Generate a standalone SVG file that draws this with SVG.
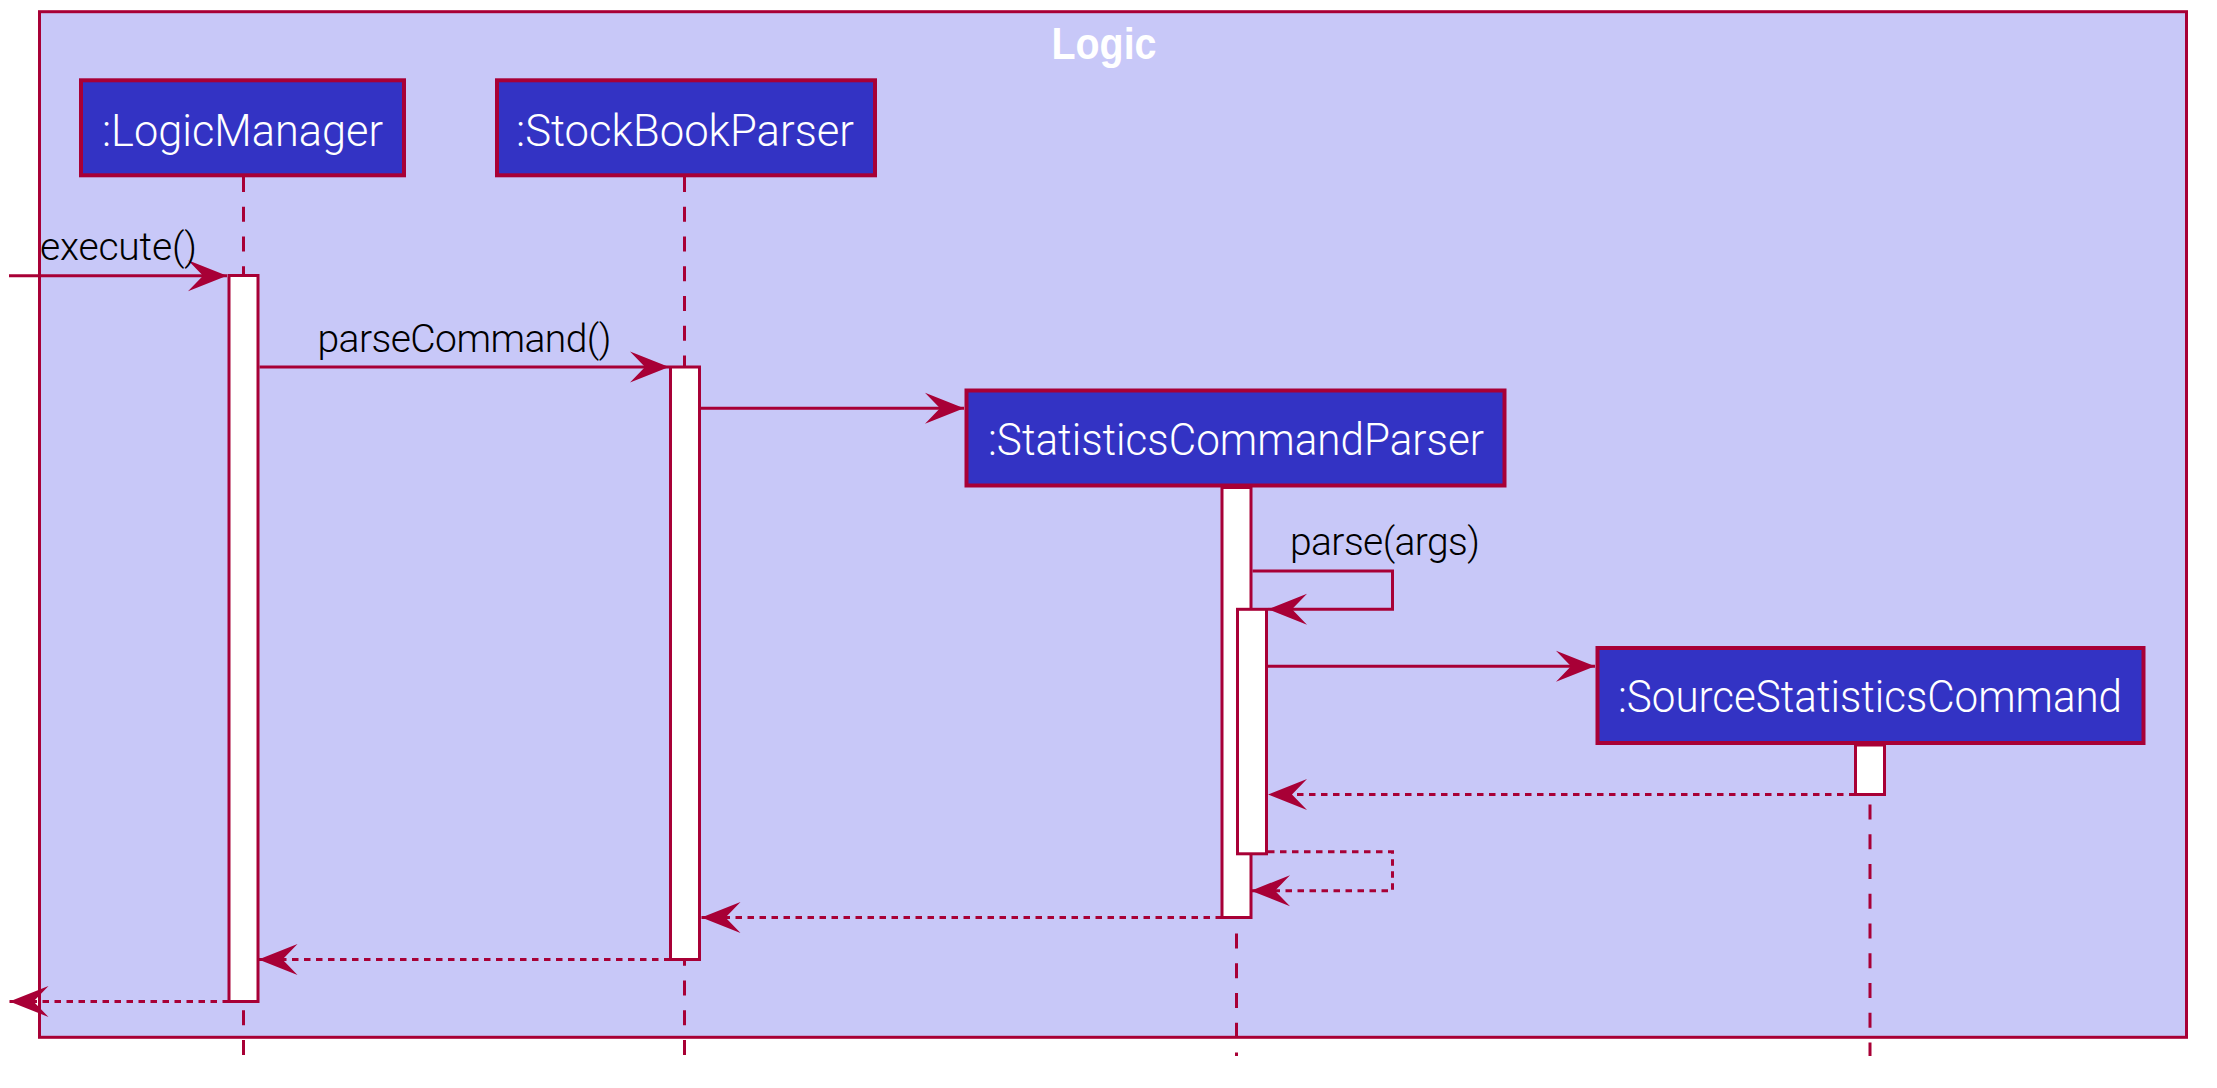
<svg xmlns="http://www.w3.org/2000/svg" width="2217" height="1088" viewBox="0 0 2217 1088">
<style>
.frame{fill:#C8C8F8;stroke:#A80036;stroke-width:3}
.box{fill:#3333C4;stroke:#A80036;stroke-width:4}
.name{font-family:Roboto,"Liberation Sans",sans-serif;font-size:45px;font-weight:300;fill:#FFFFFF;text-anchor:middle}
.msg{font-family:Roboto,"Liberation Sans",sans-serif;font-size:39px;font-weight:300;fill:#000000}
.title{font-family:"Liberation Sans",Arial,sans-serif;font-size:44px;font-weight:bold;fill:#FFFFFF;text-anchor:middle}
.life{stroke:#A80036;stroke-width:3;stroke-dasharray:15,14.76;fill:none}
.act{fill:#FFFFFF;stroke:#A80036;stroke-width:3}
.call{stroke:#A80036;stroke-width:3;fill:none;marker-end:url(#arrow)}
.ret{stroke:#A80036;stroke-width:3;fill:none;stroke-dasharray:6.5,5.5;marker-end:url(#arrow)}
</style>
<defs>
<marker id="arrow" markerUnits="userSpaceOnUse" viewBox="-40 -17 42 34" markerWidth="42" markerHeight="34" refX="0" refY="0" orient="auto" overflow="visible">
<path d="M0,0 L-39,-15.5 L-24,0 L-39,15.5 Z" fill="#A80036"/>
</marker>
</defs>
<rect width="2217" height="1088" fill="#FFFFFF"/>
<g id="frame-logic">
<rect class="frame" x="39.5" y="11.7" width="2147" height="1025.6"/>
<text class="title" x="1104" y="58.5" textLength="105" lengthAdjust="spacingAndGlyphs">Logic</text>
</g>
<g id="lifelines">
<line class="life" x1="243.5" y1="177" x2="243.5" y2="1056"/>
<line class="life" x1="684.5" y1="177" x2="684.5" y2="1056"/>
<line class="life" x1="1236.5" y1="487" x2="1236.5" y2="1056"/>
<line class="life" x1="1870" y1="745" x2="1870" y2="1056"/>
</g>
<g id="node-logicmanager">
<rect class="box" x="81" y="80.3" width="323" height="95"/>
<text class="name" x="242.5" y="145.5" textLength="281" lengthAdjust="spacingAndGlyphs">:LogicManager</text>
<rect class="act" x="229" y="275.5" width="29" height="726"/>
</g>
<g id="node-stockbookparser">
<rect class="box" x="497" y="80.3" width="378" height="95"/>
<text class="name" x="685" y="145.5" textLength="338" lengthAdjust="spacingAndGlyphs">:StockBookParser</text>
<rect class="act" x="670.5" y="367" width="29" height="592.5"/>
</g>
<g id="node-statisticscommandparser">
<rect class="box" x="966.5" y="390.5" width="538" height="95"/>
<text class="name" x="1236" y="455" textLength="496" lengthAdjust="spacingAndGlyphs">:StatisticsCommandParser</text>
<rect class="act" x="1222" y="487.5" width="29" height="430"/>
<rect class="act" x="1237.5" y="609.3" width="29" height="244.5"/>
</g>
<g id="node-sourcestatisticscommand">
<rect class="box" x="1597.5" y="648" width="546" height="95"/>
<text class="name" x="1870" y="711.5" textLength="504" lengthAdjust="spacingAndGlyphs">:SourceStatisticsCommand</text>
<rect class="act" x="1855.5" y="745" width="29" height="49.5"/>
</g>
<g id="connectors">
<line class="call" x1="9" y1="275.7" x2="227" y2="275.7"/>
<text class="msg" x="40" y="260" textLength="157">execute()</text>
<line class="call" x1="259.5" y1="367" x2="669" y2="367"/>
<text class="msg" x="317.5" y="351.7" textLength="294">parseCommand()</text>
<line class="call" x1="701" y1="408.3" x2="964" y2="408.3"/>
<polyline class="call" points="1252.5,571 1392.5,571 1392.5,609.3 1268,609.3"/>
<text class="msg" x="1290" y="555" textLength="190">parse(args)</text>
<line class="call" x1="1268" y1="666.3" x2="1595" y2="666.3"/>
<line class="ret" x1="1855.5" y1="794.5" x2="1268" y2="794.5"/>
<polyline class="ret" points="1268,851.7 1392.5,851.7 1392.5,890.7 1251,890.7"/>
<line class="ret" x1="1222" y1="917.5" x2="701.5" y2="917.5"/>
<line class="ret" x1="670.5" y1="959.5" x2="258.5" y2="959.5"/>
<line class="ret" x1="229" y1="1001.5" x2="9.5" y2="1001.5"/>
</g>
</svg>
